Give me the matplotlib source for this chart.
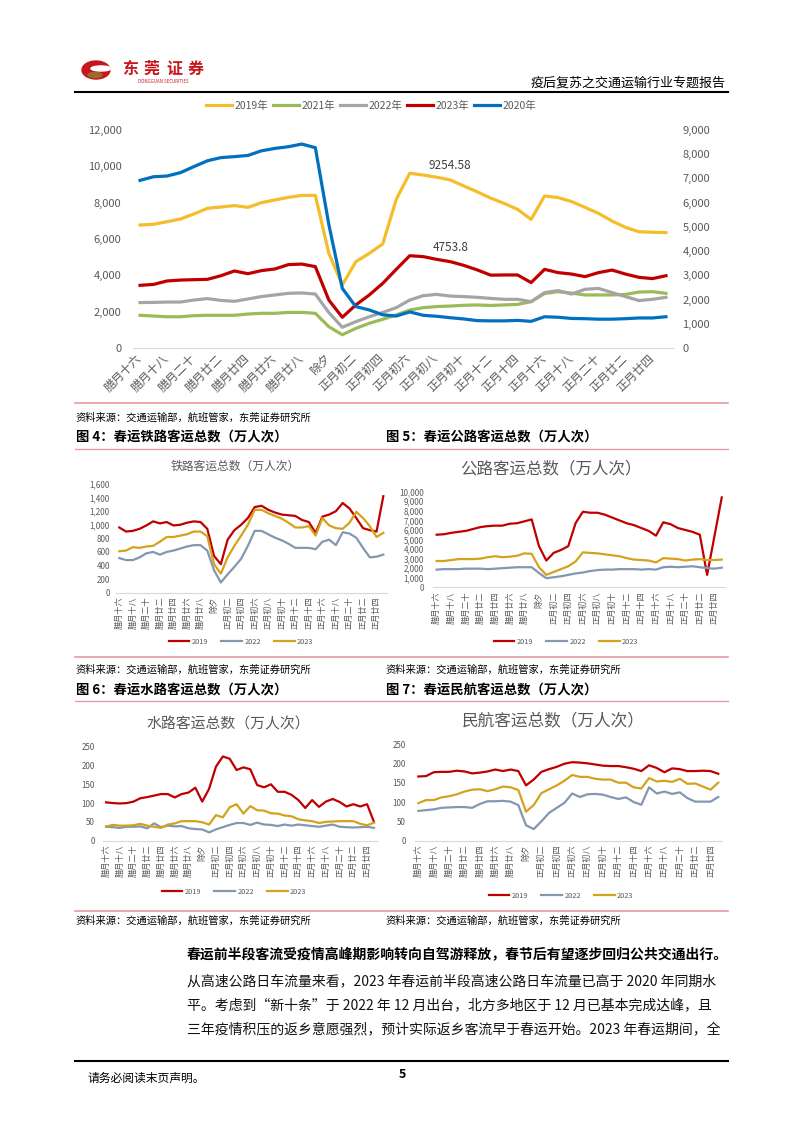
import matplotlib
matplotlib.use('Agg')
import matplotlib.pyplot as plt
from matplotlib.patches import Ellipse
from matplotlib.ticker import FuncFormatter

plt.rcParams['font.family'] = ['Noto Sans CJK SC', 'DejaVu Sans']
plt.rcParams['axes.unicode_minus'] = False

# ---------------- data ----------------
days = ['腊月十六', '腊月十七', '腊月十八', '腊月十九', '腊月二十', '腊月廿一', '腊月廿二', '腊月廿三',
        '腊月廿四', '腊月廿五', '腊月廿六', '腊月廿七', '腊月廿八', '腊月廿九', '除夕', '正月初一',
        '正月初二', '正月初三', '正月初四', '正月初五', '正月初六', '正月初七', '正月初八', '正月初九',
        '正月初十', '正月十一', '正月十二', '正月十三', '正月十四', '正月十五', '正月十六', '正月十七',
        '正月十八', '正月十九', '正月二十', '正月廿一', '正月廿二', '正月廿三', '正月廿四', '正月廿五']

# main chart (left axis): 2019, 2021, 2022, 2023 ; 2020 on right axis
main_2019 = [6770, 6810, 6950, 7100, 7380, 7690, 7760, 7840, 7740, 8000, 8150, 8290, 8400, 8400, 5210,
             3470, 4750, 5210, 5730, 8180, 9620, 9520, 9400, 9254.58, 8920, 8600, 8250, 7960, 7630, 7080,
             8370, 8280, 8060, 7740, 7410, 6990, 6640, 6400, 6370, 6350]
main_2021 = [1800, 1760, 1720, 1720, 1780, 1800, 1800, 1800, 1870, 1910, 1910, 1960, 1960, 1910, 1170,
             730, 1080, 1360, 1580, 1820, 2090, 2220, 2280, 2310, 2350, 2370, 2340, 2370, 2400, 2550,
             3000, 3100, 3020, 2920, 2920, 2920, 2950, 3080, 3100, 3010]
main_2022 = [2500, 2510, 2530, 2530, 2640, 2720, 2620, 2570, 2700, 2830, 2920, 3010, 3030, 2970, 1950,
             1140, 1450, 1720, 1960, 2220, 2640, 2880, 2950, 2860, 2830, 2790, 2730, 2680, 2680, 2550,
             3050, 3160, 2970, 3230, 3280, 3050, 2830, 2610, 2680, 2790]
main_2023 = [3450, 3500, 3690, 3740, 3760, 3780, 3980, 4240, 4090, 4260, 4350, 4590, 4620, 4480, 2640,
             1690, 2370, 2920, 3560, 4330, 5080, 5030, 4880, 4753.8, 4550, 4300, 4010, 4020, 4020, 3600,
             4330, 4150, 4070, 3930, 4150, 4290, 4070, 3890, 3820, 3980]
main_2020 = [6920, 7070, 7100, 7240, 7490, 7730, 7860, 7900, 7950, 8140, 8240, 8310, 8420, 8270, 5100,
             2460, 1710, 1570, 1370, 1320, 1490, 1350, 1310, 1250, 1200, 1130, 1120, 1120, 1140, 1100,
             1290, 1270, 1220, 1210, 1190, 1190, 1210, 1240, 1240, 1290]

rail_2019 = [960, 900, 910, 940, 990, 1050, 1020, 1040, 990, 1000, 1030, 1050, 1040, 940, 540, 420, 780,
             920, 1000, 1100, 1260, 1280, 1220, 1180, 1150, 1140, 1130, 1070, 1040, 880, 1120, 1150, 1200,
             1320, 1240, 1100, 950, 920, 900, 1420]
rail_2022 = [510, 480, 480, 520, 580, 600, 560, 600, 620, 650, 680, 700, 700, 620, 330, 150, 270, 380, 500,
             690, 910, 910, 860, 810, 770, 720, 660, 660, 660, 640, 750, 780, 700, 890, 870, 810, 660, 520,
             530, 560]
rail_2023 = [610, 620, 670, 660, 680, 690, 750, 820, 820, 840, 860, 900, 900, 830, 420, 280, 520, 690, 840,
             1000, 1220, 1220, 1170, 1130, 1090, 1030, 960, 960, 980, 840, 1100, 990, 950, 940, 1030, 1190,
             1100, 980, 820, 880]

road_2019 = [5500, 5550, 5700, 5800, 5900, 6100, 6300, 6400, 6450, 6450, 6650, 6700, 6900, 7100, 4300,
             2800, 3600, 3900, 4300, 6700, 7900, 7800, 7800, 7600, 7300, 7000, 6700, 6500, 6200, 5900,
             5400, 6800, 6600, 6200, 6000, 5800, 5500, 1300, 5350, 9400]
road_2022 = [1850, 1900, 1900, 1900, 1950, 1950, 1950, 1900, 1950, 2000, 2050, 2100, 2100, 2100, 1500,
             950, 1050, 1150, 1300, 1450, 1550, 1700, 1800, 1850, 1850, 1900, 1900, 1900, 1850, 1900,
             1850, 2100, 2150, 2100, 2150, 2200, 2100, 2000, 1950, 2050]
road_2023 = [2750, 2750, 2850, 2950, 2950, 2950, 3000, 3150, 3250, 3150, 3200, 3300, 3550, 3500, 2100,
             1300, 1600, 1900, 2200, 2700, 3650, 3600, 3550, 3450, 3350, 3250, 3050, 2900, 2850, 2800,
             2600, 3050, 3000, 2950, 2800, 2900, 2950, 2850, 2850, 2900]

water_2019 = [102, 100, 99, 100, 104, 113, 116, 120, 124, 124, 115, 124, 128, 141, 104, 138, 197, 224, 218,
              188, 195, 190, 148, 142, 150, 130, 130, 122, 108, 87, 108, 90, 104, 111, 103, 91, 97, 91, 97, 50]
water_2022 = [37, 36, 34, 37, 37, 38, 33, 46, 36, 40, 38, 39, 33, 31, 30, 22, 30, 36, 42, 47, 47, 42, 48,
              43, 42, 39, 43, 40, 43, 41, 39, 37, 40, 43, 37, 36, 35, 36, 37, 34]
water_2023 = [38, 42, 40, 40, 41, 45, 40, 37, 34, 43, 46, 52, 52, 52, 49, 43, 68, 62, 89, 97, 72, 92, 81,
              80, 73, 72, 67, 65, 57, 54, 52, 47, 50, 51, 52, 52, 52, 45, 41, 48]

air_2019 = [166, 167, 177, 178, 178, 181, 179, 174, 176, 179, 184, 180, 184, 180, 143, 158, 178, 185, 191,
            199, 203, 202, 200, 197, 194, 193, 193, 190, 186, 180, 195, 188, 177, 187, 185, 180, 180, 181,
            180, 173]
air_2022 = [77, 79, 81, 85, 86, 87, 87, 85, 95, 102, 102, 103, 101, 92, 40, 30, 50, 72, 85, 98, 122, 113,
            120, 121, 119, 113, 108, 112, 100, 93, 138, 122, 127, 121, 125, 110, 101, 101, 101, 113]
air_2023 = [97, 105, 105, 112, 115, 120, 127, 132, 133, 128, 133, 140, 138, 131, 75, 92, 123, 133, 143,
            155, 170, 165, 165, 160, 158, 158, 150, 150, 138, 135, 162, 153, 155, 152, 160, 147, 148, 140,
            132, 150]

# ---------------- figure ----------------
W, H = 802, 1133
fig = plt.figure(figsize=(W / 100, H / 100), dpi=100)
bg = fig.add_axes([0, 0, 1, 1])
bg.set_xlim(0, W)
bg.set_ylim(H, 0)
bg.axis('off')


def axes_px(x0, y0, x1, y1):
    return fig.add_axes([x0 / W, 1 - y1 / H, (x1 - x0) / W, (y1 - y0) / H])


GRAY_TXT = '#595959'
comma = FuncFormatter(lambda v, p: f'{v:,.0f}')
xs = list(range(len(days)))

# ---------------- header ----------------
bg.add_patch(Ellipse((96, 70), 28, 18, color='#C8161D'))
bg.add_patch(Ellipse((95, 75), 14, 5, color='#9A6A2E'))
bg.add_patch(Ellipse((101, 68.5), 20, 5, color='white'))
for i, ch in enumerate('东莞证券'):
    bg.text(130 + i * 22, 69, ch, fontsize=11.5, fontweight='bold', color='#C8161D', ha='center', va='center')
bg.text(163, 81.5, 'DONGGUAN SECURITIES', fontsize=3.2, color='#C8161D', ha='center', va='center')
bg.text(726, 83, '疫后复苏之交通运输行业专题报告', fontsize=9.4, color='black', ha='right', va='center')
bg.plot([75, 728], [92, 92], color='black', lw=1.5)

# ---------------- main chart ----------------
ax = axes_px(133.3, 130, 672.7, 348)
l19, = ax.plot(xs, main_2019, color='#F4BD2C', lw=2.3, label='2019年')
l21, = ax.plot(xs, main_2021, color='#9BBB59', lw=2.3, label='2021年')
l22, = ax.plot(xs, main_2022, color='#A5A5A5', lw=2.3, label='2022年')
l23, = ax.plot(xs, main_2023, color='#C00000', lw=2.3, label='2023年')
ax.set_xlim(-0.5, len(days) - 0.5)
ax.set_ylim(0, 12000)
ax.set_yticks(range(0, 12001, 2000))
ax.yaxis.set_major_formatter(comma)
for s in ['top', 'left', 'right']:
    ax.spines[s].set_visible(False)
ax.spines['bottom'].set_color('#D9D9D9')
ax.tick_params(axis='y', length=0, pad=8.5, labelsize=8, labelcolor=GRAY_TXT)
ax.set_xticks(xs[::2])
ax.set_xticklabels(days[::2], rotation=45, ha='right', va='center', rotation_mode='anchor',
                   fontsize=8.5, color=GRAY_TXT)
ax.tick_params(axis='x', length=0, pad=6)
ax.patch.set_alpha(0)
ax2 = ax.twinx()
l20, = ax2.plot(xs, main_2020, color='#0070C0', lw=2.3, label='2020年')
ax2.set_ylim(0, 9000)
ax2.set_yticks(range(0, 9001, 1000))
ax2.yaxis.set_major_formatter(comma)
for s in ['top', 'left', 'right', 'bottom']:
    ax2.spines[s].set_visible(False)
ax2.tick_params(axis='y', length=0, pad=7, labelsize=8, labelcolor=GRAY_TXT)
for series in (main_2019, main_2023):
    ax.annotate(f'{series[23]:g}', (23, series[23]), xytext=(0, 10.5), textcoords='offset points',
                ha='center', va='center', fontsize=8.5, color='#404040')
fig.legend([l19, l21, l22, l23, l20], [h.get_label() for h in (l19, l21, l22, l23, l20)],
           loc='center', bbox_to_anchor=(371 / W, 1 - 106 / H), ncol=5, frameon=False, fontsize=7.5,
           handlelength=2.5, handletextpad=0.2, columnspacing=0.5, labelcolor=GRAY_TXT)

PINK = '#E79AA3'
bg.plot([75, 728], [403, 403], color=PINK, lw=1.2)
SRC = '资料来源：交通运输部，航班管家，东莞证券研究所'
bg.text(76, 418, SRC, fontsize=7.4, color='black', ha='left', va='center')
bg.text(76, 437, '图 4：春运铁路客运总数（万人次）', fontsize=9.6, fontweight='bold', ha='left', va='center')
bg.text(386, 437, '图 5：春运公路客运总数（万人次）', fontsize=9.6, fontweight='bold', ha='left', va='center')
bg.plot([75, 728], [448.5, 448.5], color=PINK, lw=1.0)

C19, C22, C23 = '#C00000', '#8497B0', '#D4A21C'


def small_chart(box, s19, s22, s23, ymax, ystep, title, title_xy, title_fs, legend_xy, pad):
    a = axes_px(*box)
    h19, = a.plot(xs, s19, color=C19, lw=1.6, label='2019')
    h22, = a.plot(xs, s22, color=C22, lw=1.6, label='2022')
    h23, = a.plot(xs, s23, color=C23, lw=1.6, label='2023')
    a.set_xlim(-0.5, len(days) - 0.5)
    a.set_ylim(0, ymax)
    a.set_yticks(range(0, ymax + 1, ystep))
    a.yaxis.set_major_formatter(comma)
    for s in ['top', 'left', 'right']:
        a.spines[s].set_visible(False)
    a.spines['bottom'].set_color('#D9D9D9')
    a.tick_params(axis='y', length=0, pad=pad, labelsize=5.8, labelcolor=GRAY_TXT)
    a.set_xticks(xs[::2])
    a.set_xticklabels(days[::2], rotation=90, ha='center', va='top', fontsize=5.9, color=GRAY_TXT)
    a.tick_params(axis='x', length=0, pad=3)
    a.patch.set_alpha(0)
    bg.text(title_xy[0], title_xy[1], title, fontsize=title_fs, color=GRAY_TXT, ha='center', va='center')
    fig.legend([h19, h22, h23], ['2019', '2022', '2023'], loc='center',
               bbox_to_anchor=(legend_xy[0] / W, 1 - legend_xy[1] / H), ncol=3, frameon=False,
               fontsize=5.3, handlelength=2.8, handletextpad=0.3, columnspacing=1.8, labelcolor=GRAY_TXT)


small_chart((115.9, 484, 386.7, 592.7), rail_2019, rail_2022, rail_2023, 1600, 200,
            '铁路客运总数（万人次）', (235, 466), 8.5, (241, 642), 4.3)
small_chart((433.0, 491.7, 725.4, 587.3), road_2019, road_2022, road_2023, 10000, 1000,
            '公路客运总数（万人次）', (551, 469), 11.9, (566, 642), 6.5)

bg.plot([75, 728], [657, 657], color=PINK, lw=1.2)
bg.text(76, 670, SRC, fontsize=7.4, color='black', ha='left', va='center')
bg.text(386, 670, SRC, fontsize=7.4, color='black', ha='left', va='center')
bg.text(76, 690, '图 6：春运水路客运总数（万人次）', fontsize=9.6, fontweight='bold', ha='left', va='center')
bg.text(386, 690, '图 7：春运民航客运总数（万人次）', fontsize=9.6, fontweight='bold', ha='left', va='center')
bg.plot([75, 728], [701, 701], color=PINK, lw=1.0)

small_chart((102.6, 746.7, 377.4, 840.7), water_2019, water_2022, water_2023, 250, 50,
            '水路客运总数（万人次）', (228, 724), 10.7, (234, 892), 5.5)
small_chart((414.5, 744, 722.1, 840.7), air_2019, air_2022, air_2023, 250, 50,
            '民航客运总数（万人次）', (553, 722), 12, (561, 896), 6.3)

bg.plot([75, 728], [910.5, 910.5], color=PINK, lw=1.2)
bg.text(76, 921, SRC, fontsize=7.4, color='black', ha='left', va='center')
bg.text(386, 921, SRC, fontsize=7.4, color='black', ha='left', va='center')

# ---------------- body text ----------------
bg.text(187, 955, '春运前半段客流受疫情高峰期影响转向自驾游释放，春节后有望逐步回归公共交通出行。',
        fontsize=10.0, fontweight='bold', ha='left', va='center')
body = ['从高速公路日车流量来看，2023 年春运前半段高速公路日车流量已高于 2020 年同期水',
        '平。考虑到“新十条”于 2022 年 12 月出台，北方多地区于 12 月已基本完成达峰，且',
        '三年疫情积压的返乡意愿强烈，预计实际返乡客流早于春运开始。2023 年春运期间，全']
for k, line in enumerate(body):
    bg.text(187, 981 + 24 * k, line, fontsize=10.0, ha='left', va='center', color='#111111')

# ---------------- footer ----------------
bg.plot([75, 728], [1061, 1061], color='black', lw=1.5)
bg.text(87, 1078, '请务必阅读末页声明。', fontsize=8.5, ha='left', va='center')
bg.text(402, 1075, '5', fontsize=9, fontweight='bold', ha='center', va='center')

fig.savefig('out.png', dpi=100)
